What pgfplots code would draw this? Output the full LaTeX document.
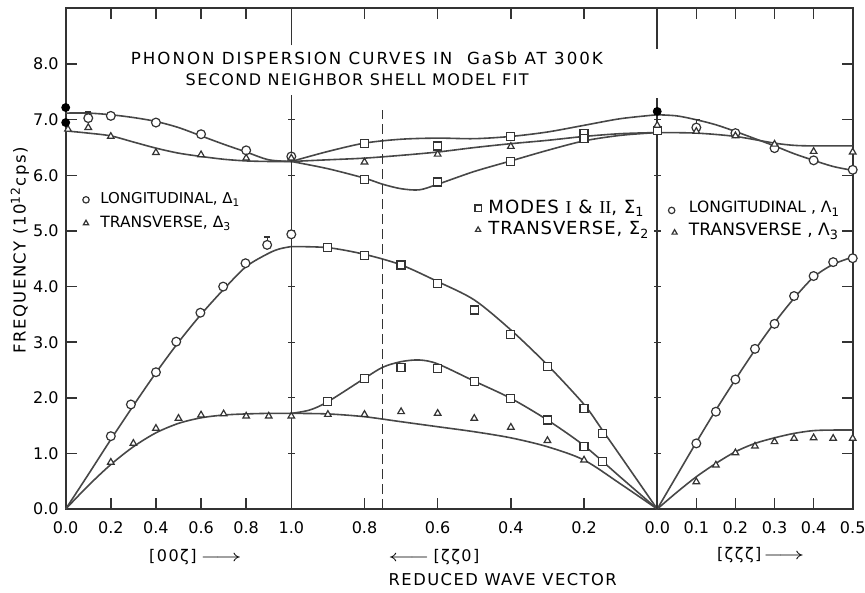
\documentclass[border=0pt]{standalone}
\usepackage{fontspec}
\setmainfont{DejaVu Sans}
\newfontfamily\wide{DejaVu Sans}[LetterSpace=9]
\newfontfamily\wider{DejaVu Sans}[LetterSpace=12]
\newfontfamily\sigfont{DejaVu Sans}[LetterSpace=5]
\newfontfamily\serif{Liberation Serif}
\usepackage{graphicx}
\usepackage{pgfplots}
\pgfplotsset{compat=1.18}
\usetikzlibrary{calc}

\pgfplotsset{
  curve/.style={no markers, smooth, line width=0.8pt, draw=black!72},
  sig/.style={x filter/.expression={1+1.622*(1-x)}},
  lam/.style={x filter/.expression={2.622+1.733*x}},
  pc/.style={only marks, mark=*, mark size=2.2pt, mark options={line width=0.6pt, draw=black!80, fill=white}},
  ps/.style={only marks, mark=square*, mark size=2pt, mark options={line width=0.6pt, draw=black!80, fill=white}},
  pt/.style={only marks, mark=triangle*, mark size=1.9pt, mark options={line width=0.6pt, draw=black!80, fill=white}},
}
% text set to the width it has in the figure
\newcommand{\fit}[2]{\resizebox{#1}{!}{#2}}
\newcommand{\rarr}{\scalebox{1.5}[1]{$\longrightarrow$}}
\newcommand{\larr}{\scalebox{1.5}[1]{$\longleftarrow$}}

\begin{document}
\begin{tikzpicture}
\begin{axis}[
    name=ax,
    scale only axis,
    width=393.5pt, height=250.5pt,
    xmin=0, xmax=3.4885, ymin=0, ymax=9.01,
    clip=false,
    axis line style={line width=0.8pt, black!80},
    tick style={line width=0.7pt, black!80},
    tick align=inside, tick pos=both,
    major tick length=5.5pt,
    xtick={0,0.2,0.4,0.6,0.8,1,1.3244,1.6488,1.9732,2.2976,2.622,2.7953,2.9686,3.1419,3.3152,3.4885},
    xticklabels={0.0,0.2,0.4,0.6,0.8,1.0,0.8,0.6,0.4,0.2,0.0,0.1,0.2,0.3,0.4,0.5},
    xticklabel style={yshift=-3pt},
    ytick={0,1,...,8},
    yticklabel style={/pgf/number format/.cd, fixed, fixed zerofill, precision=1},
    /pgf/number format/assume math mode=true,
    ticklabel style={font=\fontsize{8}{9}\selectfont},
]

% --- Delta branch [00z] ---
\addplot[curve] coordinates {(0,0)(0.1,0.62)(0.2,1.25)(0.3,1.86)(0.4,2.45)(0.5,3.0)(0.6,3.5)(0.7,3.95)(0.8,4.36)(0.9,4.6)(0.95,4.68)(1.0,4.72)};
\addplot[curve] coordinates {(0,0)(0.1,0.42)(0.2,0.8)(0.3,1.12)(0.4,1.37)(0.5,1.54)(0.6,1.64)(0.7,1.69)(0.8,1.71)(0.9,1.72)(1.0,1.72)};
\addplot[curve] coordinates {(0,7.12)(0.1,7.12)(0.2,7.09)(0.3,7.04)(0.4,6.97)(0.5,6.86)(0.6,6.71)(0.7,6.56)(0.8,6.42)(0.9,6.28)(1.0,6.25)};
\addplot[curve] coordinates {(0,6.80)(0.1,6.76)(0.2,6.71)(0.3,6.60)(0.4,6.49)(0.5,6.40)(0.6,6.34)(0.7,6.29)(0.8,6.26)(0.9,6.25)(1.0,6.25)};

% --- Sigma branch [zz0] ---
\addplot[curve, sig] coordinates {(1,4.72)(0.9,4.70)(0.8,4.58)(0.7,4.39)(0.6,4.09)(0.5,3.76)(0.4,3.22)(0.3,2.59)(0.2,1.88)(0.15,1.42)(0.1,0.95)(0,0)};
\addplot[curve, sig] coordinates {(1,1.72)(0.95,1.78)(0.9,1.93)(0.8,2.35)(0.75,2.55)(0.7,2.65)(0.65,2.68)(0.6,2.61)(0.5,2.30)(0.4,1.99)(0.3,1.60)(0.2,1.14)(0.1,0.57)(0,0)};
\addplot[curve, sig] coordinates {(1,1.72)(0.9,1.71)(0.8,1.66)(0.7,1.57)(0.6,1.48)(0.5,1.39)(0.4,1.28)(0.3,1.12)(0.2,0.88)(0.1,0.45)(0,0)};
\addplot[curve, sig] coordinates {(1,6.25)(0.9,6.43)(0.8,6.58)(0.7,6.65)(0.6,6.67)(0.5,6.66)(0.4,6.70)(0.3,6.78)(0.2,6.90)(0.1,7.02)(0,7.09)};
\addplot[curve, sig] coordinates {(1,6.25)(0.9,6.28)(0.8,6.31)(0.7,6.36)(0.6,6.42)(0.5,6.50)(0.4,6.57)(0.3,6.63)(0.2,6.70)(0.1,6.75)(0,6.77)};
\addplot[curve, sig] coordinates {(1,6.25)(0.9,6.12)(0.8,5.95)(0.75,5.84)(0.7,5.76)(0.65,5.74)(0.6,5.84)(0.5,6.07)(0.4,6.26)(0.3,6.45)(0.2,6.62)(0.1,6.72)(0,6.77)};

% --- Lambda branch [zzz] ---
\addplot[curve, lam] coordinates {(0,0)(0.05,0.6)(0.1,1.2)(0.15,1.78)(0.2,2.33)(0.25,2.86)(0.3,3.35)(0.35,3.79)(0.4,4.17)(0.45,4.40)(0.5,4.53)};
\addplot[curve, lam] coordinates {(0,0)(0.05,0.3)(0.1,0.58)(0.15,0.82)(0.2,1.03)(0.25,1.18)(0.3,1.28)(0.35,1.36)(0.4,1.41)(0.45,1.42)(0.5,1.42)};
\addplot[curve, lam] coordinates {(0,7.09)(0.05,7.07)(0.1,7.0)(0.15,6.91)(0.2,6.79)(0.25,6.66)(0.3,6.53)(0.35,6.39)(0.4,6.27)(0.45,6.16)(0.5,6.09)};
\addplot[curve, lam] coordinates {(0,6.77)(0.1,6.76)(0.2,6.70)(0.3,6.58)(0.35,6.54)(0.4,6.53)(0.5,6.53)};

% symmetry-point lines and the K-point dashed line
\addplot[no markers, line width=0.8pt, black!80] coordinates {(1,0)(1,7.45)};
\addplot[no markers, line width=0.8pt, black!80] coordinates {(1,8.34)(1,9.01)};
\addplot[no markers, line width=0.8pt, black!80] coordinates {(2.622,0)(2.622,7.39)};
\addplot[no markers, line width=0.8pt, black!80] coordinates {(2.622,8.28)(2.622,9.01)};
\addplot[no markers, sig, line width=0.7pt, black!80, dash pattern=on 5pt off 2.5pt] coordinates {(0.75,0)(0.75,7.18)};
\addplot[only marks, mark=-, mark size=1.8pt, mark options={line width=0.6pt, black!80}] coordinates {
  (1,1)(1,2)(1,3)(1,4)(1,5)(1,6)(1,7)(2.622,1)(2.622,2)(2.622,3)(2.622,4)(2.622,5)(2.622,6)(2.622,7)};

% measured points, Delta
\addplot[pc] coordinates {(0.2,7.07)(0.4,6.95)(0.6,6.74)(0.8,6.45)(1.0,6.34)
  (0.2,1.31)(0.289,1.88)(0.4,2.46)(0.49,3.01)(0.597,3.53)(0.698,4.00)(0.797,4.42)(1.0,4.94)};
\addplot[pc, error bars/.cd, y dir=plus, y explicit, error bar style={line width=0.6pt, black!80},
  error mark options={rotate=90, mark size=1.6pt, line width=0.6pt, black!80}]
  coordinates {(0.1,7.03) +- (0,0.11) (0.893,4.75) +- (0,0.14)};
\addplot[pt] coordinates {(0.01,6.83)(0.1,6.86)(0.2,6.70)(0.4,6.41)(0.6,6.37)(0.8,6.31)(1.0,6.31)
  (0.2,0.84)(0.3,1.18)(0.4,1.45)(0.5,1.63)(0.6,1.69)(0.7,1.71)(0.8,1.67)(0.9,1.67)(1.0,1.67)};
\addplot[only marks, mark=*, mark size=2pt, black] coordinates {(0,7.22)(0,6.95)};

% measured points, Sigma
\addplot[ps, sig] coordinates {(0.9,4.71)(0.8,4.56)(0.7,4.39)(0.6,4.05)(0.5,3.58)(0.4,3.14)(0.3,2.56)(0.2,1.81)(0.15,1.36)
  (0.9,1.93)(0.8,2.34)(0.7,2.55)(0.6,2.53)(0.5,2.29)(0.4,1.99)(0.3,1.60)(0.2,1.12)(0.15,0.85)
  (0.8,6.57)(0.8,5.93)(0.6,6.53)(0.6,5.88)(0.4,6.70)(0.4,6.25)(0.2,6.76)(0.2,6.67)(0,6.81)};
\addplot[pt, sig] coordinates {(0.9,1.70)(0.8,1.70)(0.7,1.75)(0.6,1.72)(0.5,1.63)(0.4,1.47)(0.3,1.23)(0.2,0.88)
  (0.8,6.24)(0.6,6.38)(0.4,6.52)};

% measured points, Lambda
\addplot[pc, lam] coordinates {(0.1,1.18)(0.15,1.75)(0.2,2.33)(0.25,2.88)(0.3,3.33)(0.35,3.83)(0.4,4.19)(0.45,4.44)(0.5,4.51)
  (0.2,6.76)(0.3,6.49)(0.4,6.27)(0.5,6.10)};
\addplot[pc, lam, error bars/.cd, y dir=plus, y explicit, error bar style={line width=0.6pt, black!80},
  error mark options={rotate=90, mark size=1.6pt, line width=0.6pt, black!80}]
  coordinates {(0.1,6.86) +- (0,0.14)};
\addplot[pt, lam] coordinates {(0.1,0.49)(0.15,0.79)(0.2,1.01)(0.25,1.13)(0.3,1.21)(0.35,1.27)(0.4,1.28)(0.45,1.27)(0.5,1.27)
  (0.1,6.79)(0.2,6.71)(0.3,6.56)(0.4,6.43)(0.5,6.42)(0,6.90)};
\addplot[only marks, mark=*, mark size=2pt, black] coordinates {(2.622,7.15)};

% legend keys
\addplot[pc, mark size=1.6pt] coordinates {(0.09,5.56)(2.686,5.37)};
\addplot[pt, mark size=1.5pt] coordinates {(0.09,5.14)(1.828,5.02)(2.699,4.97)};
\addplot[ps, mark size=1.6pt] coordinates {(1.828,5.41)};

\begin{scope}[every node/.style={inner sep=0pt}]
\node[anchor=west] at (axis cs:0.152,5.56) {\fit{70pt}{\fontsize{7.5}{9}\selectfont LONGITUDINAL, Δ\textsubscript{1}}};
\node[anchor=west] at (axis cs:0.152,5.14) {\fit{65.5pt}{\fontsize{7.5}{9}\selectfont TRANSVERSE, Δ\textsubscript{3}}};
\node[anchor=west] at (axis cs:1.872,5.41) {\fit{78pt}{\sigfont\fontsize{8.5}{10}\selectfont MODES {\serif I} \& {\serif II}, Σ\textsubscript{1}}};
\node[anchor=west] at (axis cs:1.872,5.02) {\fit{80.5pt}{\sigfont\fontsize{8.5}{10}\selectfont TRANSVERSE, Σ\textsubscript{2}}};
\node[anchor=west] at (axis cs:2.761,5.40) {\fit{75.5pt}{\fontsize{8}{9}\selectfont LONGITUDINAL , Λ\textsubscript{1}}};
\node[anchor=west] at (axis cs:2.761,5.00) {\fit{75pt}{\fontsize{8}{9}\selectfont TRANSVERSE , Λ\textsubscript{3}}};
\node at (axis cs:1.335,8.11) {\fit{236pt}{\wider\fontsize{8}{9}\selectfont PHONON DISPERSION CURVES IN\ \ GaSb AT 300K}};
\node at (axis cs:1.292,7.72) {\fit{171.5pt}{\wide\fontsize{8}{9}\selectfont SECOND NEIGHBOR SHELL MODEL FIT}};
\node[font=\wide\fontsize{8}{9}\selectfont] at (axis cs:0.575,-0.86) {[00ζ]\hspace{2pt}\rarr};
\node[font=\wide\fontsize{8}{9}\selectfont] at (axis cs:1.632,-0.86) {\larr\hspace{2pt}[ζζ0]};
\node[font=\wide\fontsize{8}{9}\selectfont] at (axis cs:3.081,-0.83) {[ζζζ]\hspace{1pt}\rarr};
\node at (axis cs:1.937,-1.27) {\fit{114pt}{\wide\fontsize{8}{9}\selectfont REDUCED WAVE VECTOR}};
\node[rotate=90] at (axis cs:-0.203,4.65) {\fit{103pt}{\wide\fontsize{8}{9}\selectfont FREQUENCY (10\textsuperscript{12}cps)}};
\end{scope}
\end{axis}
\pgfresetboundingbox
\path[use as bounding box] ($(ax.south west)+(-32.85pt,-41.5pt)$) rectangle ($(ax.north east)+(6.15pt,4pt)$);
\end{tikzpicture}
\end{document}
